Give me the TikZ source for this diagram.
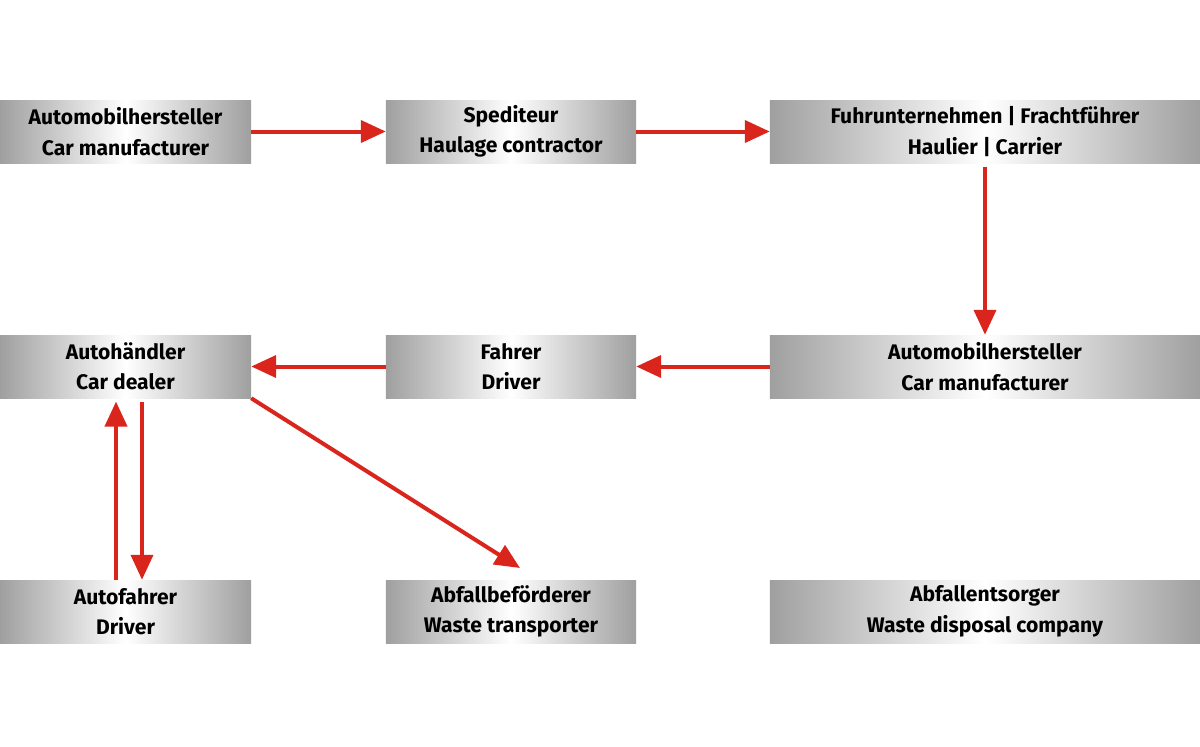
\documentclass[tikz,border=0pt]{standalone}
\usepackage{fontspec}
\setmainfont{Fira Sans}
\usetikzlibrary{arrows.meta}
\definecolor{arrowred}{RGB}{218,37,29}
\tikzset{
  box/.style={minimum height=1.89cm, inner sep=0pt, align=center,
    left color=gray!75, right color=gray!75, middle color=white,
    font=\fontsize{18}{26}\selectfont\bfseries},
  flow/.style={draw=arrowred, line width=0.12cm,
    -{Triangle[length=0.75cm,width=0.66cm]}}
}
\begin{document}
\begin{tikzpicture}[x=0.03cm,y=-0.03cm]
		\useasboundingbox (0,0) rectangle (1200,746);
		% first row
		\node [box, minimum width=7.53cm] (maker) at (125.5,131.5) {Automobilhersteller\\Car manufacturer};
		\node [box, minimum width=7.5cm] (forwarder) at (511,131.5) {Spediteur\\Haulage contractor};
		\node [box, minimum width=12.9cm] (haulier) at (985,131.5) {Fuhrunternehmen | Frachtführer\\Haulier | Carrier};
		% second row
		\node [box, minimum width=7.53cm] (dealer) at (125.5,366.5) {Autohändler\\Car dealer};
		\node [box, minimum width=7.5cm] (driver) at (511,366.5) {Fahrer\\Driver};
		\node [box, minimum width=12.9cm] (maker2) at (985,366.5) {Automobilhersteller\\Car manufacturer};
		% third row
		\node [box, minimum width=7.53cm] (motorist) at (125.5,611.5) {Autofahrer\\Driver};
		\node [box, minimum width=7.5cm] (waste) at (511,611.5) {Abfallbeförderer\\Waste transporter};
		\node [box, minimum width=12.9cm] (disposal) at (985,611.5) {Abfallentsorger\\Waste disposal company};
		% connectors
		\draw [flow] (maker) -- (forwarder);
		\draw [flow] (forwarder) -- (haulier);
		\draw [flow] ([yshift=-0.1cm]haulier.south) -- (maker2.north);
		\draw [flow] (maker2) -- (driver);
		\draw [flow] (driver) -- (dealer);
		\draw [flow] (motorist.north -| 116,0) -- ([yshift=-0.1cm]dealer.south -| 116,0);
		\draw [flow] ([yshift=-0.1cm]dealer.south -| 142,0) -- (motorist.north -| 142,0);
		\draw [flow] (dealer.south east) -- (520,568);
\end{tikzpicture}
\end{document}
